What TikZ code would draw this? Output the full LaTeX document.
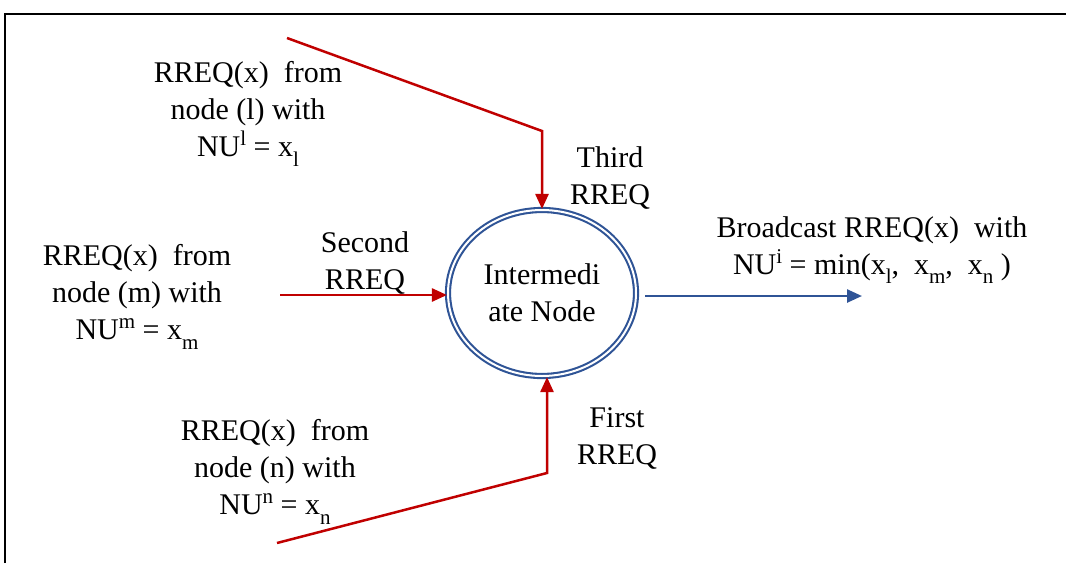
\documentclass[tikz,border=0pt]{standalone}
\usepackage{fontspec}
\setmainfont{Liberation Serif}
\usepackage{tikz}
\usetikzlibrary{arrows.meta,shapes.geometric}

\definecolor{rreqred}{RGB}{192,0,0}
\definecolor{nodeblue}{RGB}{47,84,150}

\newcommand{\lowidx}[1]{\raisebox{-0.32em}{\fontsize{21}{21}\selectfont #1}}
\newcommand{\highidx}[1]{\raisebox{0.36em}{\fontsize{21}{21}\selectfont #1}}

\tikzset{
  lbl/.style={align=center, font=\fontsize{30}{37}\selectfont, inner sep=0pt},
  rreq/.style={rreqred, line width=2.5pt, -{Triangle[length=15pt,width=13pt]}},
  bcast/.style={nodeblue, line width=2.5pt, -{Triangle[length=15pt,width=13pt]}}
}

\begin{document}
\begin{tikzpicture}[x=1pt, y=-1pt]

\useasboundingbox (0,0) rectangle (1066,563);

% Frame
\draw[line width=2pt] (5,563) -- (5,14) -- (1066,14);

% Intermediate node
\node[ellipse, draw=nodeblue, double, double distance=2pt, line width=2.1pt,
      minimum width=188pt, minimum height=166pt, lbl] (inter) at (542,293)
      {Intermedi\\ate Node};

% Sources
\node[lbl] (srcl) at (248,114) {RREQ(x)~~from\\node (l) with\\NU\highidx{l} = x\lowidx{l}};
\node[lbl] (srcm) at (137,297) {RREQ(x)~~from\\node (m) with\\NU\highidx{m} = x\lowidx{m}};
\node[lbl] (srcn) at (275,472) {RREQ(x)~~from\\node (n) with\\NU\highidx{n} = x\lowidx{n}};

% Order labels
\node[lbl] (third) at (610,178) {Third\\RREQ};
\node[lbl] (second) at (365,263) {Second\\RREQ};
\node[lbl] (first) at (617,438) {First\\RREQ};

% Broadcast
\node[lbl] (bclbl) at (872,250) {Broadcast RREQ(x)~~with\\NU\highidx{i} = min(x\lowidx{l},~~x\lowidx{m},~~x\lowidx{n}~)};

% Arrows
\coordinate (pl) at (287,38);
\coordinate (pm) at (280,295);
\coordinate (pn) at (277,543);
\coordinate (pout) at (862,296);
\draw[rreq] (pl) -- (542,131) -- (inter.north);
\draw[rreq] (pm) -- (inter.west |- pm);
\draw[rreq] (pn) -- (547,473) -- ([xshift=5pt]inter.south);
\draw[bcast] (inter.east |- pout) ++(8,0) -- (pout);

\end{tikzpicture}
\end{document}
